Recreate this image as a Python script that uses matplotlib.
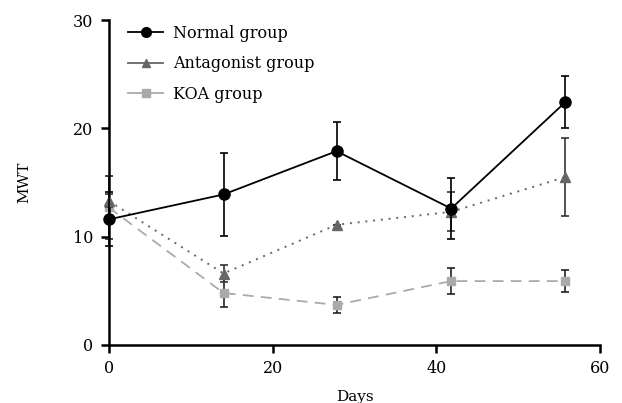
import matplotlib
matplotlib.use('Agg')
import matplotlib.pyplot as plt
from matplotlib.lines import Line2D
import numpy as np

# values
days = [0, 14, 27.8, 41.8, 55.7]
normal_mean = [11.6, 13.9, 17.9, 12.6, 22.4]
normal_err = [2.5, 3.8, 2.7, 2.8, 2.4]
antag_mean = [13.3, 6.6, 11.1, 12.3, 15.5]
antag_err = [0.6, 0.8, 0.0, 1.8, 3.6]
koa_mean = [12.7, 4.8, 3.7, 5.9, 5.9]
koa_err = [2.9, 1.3, 0.75, 1.2, 1.0]
labels = ['Normal group', 'Antagonist group', 'KOA group']

plt.rcParams['font.family'] = ['DejaVu Serif']
plt.rcParams['font.size'] = 11

fig = plt.figure(figsize=(6.22, 4.03), dpi=100)
ax = fig.add_axes([0.175, 0.144, 0.79, 0.806])

ax.errorbar(days, koa_mean, yerr=koa_err, color='#aaaaaa', ls=(0, (6, 4)), lw=1.3,
            marker='s', ms=6, ecolor='#222222', elinewidth=1.2, capsize=3, capthick=1.2,
            clip_on=False, zorder=2)
ax.errorbar(days, antag_mean, yerr=antag_err, color='#666666', ls=(0, (1, 3)), lw=1.4,
            marker='^', ms=7, ecolor='#333333', elinewidth=1.2, capsize=3, capthick=1.2,
            clip_on=False, zorder=3)
ax.errorbar(days, normal_mean, yerr=normal_err, color='black', ls='-', lw=1.3,
            marker='o', ms=8, ecolor='black', elinewidth=1.2, capsize=3, capthick=1.2,
            clip_on=False, zorder=4)

ax.set_xlim(0, 60)
ax.set_ylim(0, 30)
ax.set_xticks([0, 20, 40, 60])
ax.set_yticks([0, 10, 20, 30])
ax.spines['top'].set_visible(False)
ax.spines['right'].set_visible(False)
ax.spines['left'].set_linewidth(1.8)
ax.spines['bottom'].set_linewidth(1.8)
ax.tick_params(width=1.8, length=6, direction='out', labelsize=11.5, pad=5)
ax.set_xlabel('Days', fontsize=11, labelpad=9)
ax.set_ylabel('MWT', fontsize=11, labelpad=30)

handles = [Line2D([], [], color='black', lw=1.3, marker='o', ms=7),
           Line2D([], [], color='#666666', lw=1.3, marker='^', ms=6),
           Line2D([], [], color='#aaaaaa', lw=1.3, marker='s', ms=6)]
ax.legend(handles, labels, loc='upper left', bbox_to_anchor=(0.01, 1.03), frameon=False,
          fontsize=11.5, handlelength=2.2, handletextpad=0.6, labelspacing=0.85)

fig.savefig('out.png', dpi=100)
